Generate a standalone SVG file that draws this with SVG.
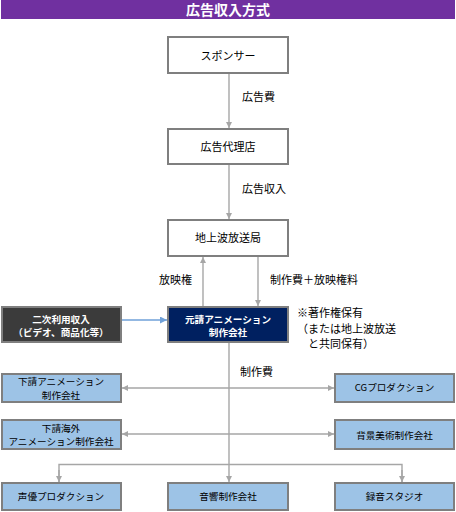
<svg xmlns="http://www.w3.org/2000/svg" width="456" height="512" viewBox="0 0 456 512">
<defs>
<style>
text{font-family:"Noto Sans CJK JP","Noto Sans",sans-serif;fill:#000;text-anchor:middle}
.box{stroke:#7f7f7f;stroke-width:2}
.w{fill:#fff}
.blue{fill:#9dc3e6}
.t11{font-size:11px}
.t10{font-size:9.6px}
.wt{fill:#fff;font-weight:bold;font-size:9.6px}
.lbl{font-size:11px;text-anchor:start}
.con{stroke:#a6a6a6;stroke-width:1.4;fill:none}
</style>
<marker id="ah" viewBox="0 0 10 10" refX="10" refY="5" markerWidth="7" markerHeight="6" markerUnits="userSpaceOnUse" orient="auto-start-reverse"><path d="M0,0 L10,5 L0,10 z" fill="#a6a6a6"/></marker>
<marker id="ahb" viewBox="0 0 10 10" refX="10" refY="5" markerWidth="8" markerHeight="7" markerUnits="userSpaceOnUse" orient="auto"><path d="M0,0 L10,5 L0,10 z" fill="#6fa0d8"/></marker>
</defs>
<rect x="1" y="0" width="454" height="19" fill="#7030a0"/>
<text x="228" y="15" style="fill:#fff;font-weight:bold;font-size:14px">広告収入方式</text>

<g id="connectors">
<line class="con" x1="229" y1="74" x2="229" y2="128" marker-end="url(#ah)"/>
<line class="con" x1="229" y1="165" x2="229" y2="219" marker-end="url(#ah)"/>
<line class="con" x1="203" y1="306" x2="203" y2="257" marker-end="url(#ah)"/>
<line class="con" x1="258" y1="257" x2="258" y2="306" marker-end="url(#ah)"/>
<line x1="121" y1="320" x2="167" y2="320" stroke="#6fa0d8" stroke-width="1.6" marker-end="url(#ahb)"/>
<line class="con" x1="229" y1="343" x2="229" y2="482" marker-end="url(#ah)"/>
<line class="con" x1="122" y1="388" x2="334" y2="388" marker-start="url(#ah)" marker-end="url(#ah)"/>
<line class="con" x1="122" y1="434" x2="334" y2="434" marker-start="url(#ah)" marker-end="url(#ah)"/>
<polyline class="con" points="59,482 59,464.5 402,464.5 402,482"/>
<line class="con" x1="59" y1="470" x2="59" y2="482" marker-end="url(#ah)"/>
<line class="con" x1="402" y1="470" x2="402" y2="482" marker-end="url(#ah)"/>
<text class="lbl" x="242" y="101">広告費</text>
<text class="lbl" x="242" y="193">広告収入</text>
<text class="lbl" x="159" y="284">放映権</text>
<text class="lbl" x="270" y="284">制作費＋放映権料</text>
<text class="lbl" x="240" y="376">制作費</text>
</g>

<g id="sponsor"><rect class="box w" x="168" y="37" width="120" height="36"/><text class="t11" x="228" y="60">スポンサー</text></g>
<g id="agency"><rect class="box w" x="168" y="129" width="120" height="35"/><text class="t11" x="228" y="150.5">広告代理店</text></g>
<g id="broadcaster"><rect class="box w" x="168" y="220" width="120" height="36"/><text class="t11" x="228" y="242">地上波放送局</text></g>
<g id="prime"><rect class="box" fill="#002060" x="168" y="307" width="120" height="35"/><text class="wt" x="228" y="322.5">元請アニメーション</text><text class="wt" x="228" y="335.5">制作会社</text></g>
<g id="secondary"><rect class="box" fill="#3b3b3b" x="2" y="307" width="119" height="35"/><text class="wt" x="61" y="322.5">二次利用収入</text><text class="wt" x="61" y="335.5">（ビデオ、商品化等）</text></g>
<g id="note"><text class="lbl" x="297" y="316.5">※著作権保有</text><text class="lbl" x="297" y="332.5">（または地上波放送</text><text class="lbl" x="308" y="347.5">と共同保有）</text></g>
<g id="sub-anime"><rect class="box blue" x="2" y="374" width="119" height="28"/><text class="t10" x="61" y="384.5">下請アニメーション</text><text class="t10" x="61" y="398.5">制作会社</text></g>
<g id="cg"><rect class="box blue" x="335" y="374" width="119" height="28"/><text class="t10" x="394.5" y="391">CGプロダクション</text></g>
<g id="sub-overseas"><rect class="box blue" x="2" y="420" width="119" height="29"/><text class="t10" x="61" y="432">下請海外</text><text class="t10" x="61" y="445">アニメーション制作会社</text></g>
<g id="background-art"><rect class="box blue" x="335" y="420" width="119" height="29"/><text class="t10" x="394.5" y="438.5">背景美術制作会社</text></g>
<g id="voice"><rect class="box blue" x="2" y="483" width="119" height="27"/><text class="t10" x="61" y="500">声優プロダクション</text></g>
<g id="sound"><rect class="box blue" x="168" y="483" width="120" height="27"/><text class="t10" x="228" y="500">音響制作会社</text></g>
<g id="studio"><rect class="box blue" x="335" y="483" width="119" height="27"/><text class="t10" x="394.5" y="500">録音スタジオ</text></g>
</svg>
